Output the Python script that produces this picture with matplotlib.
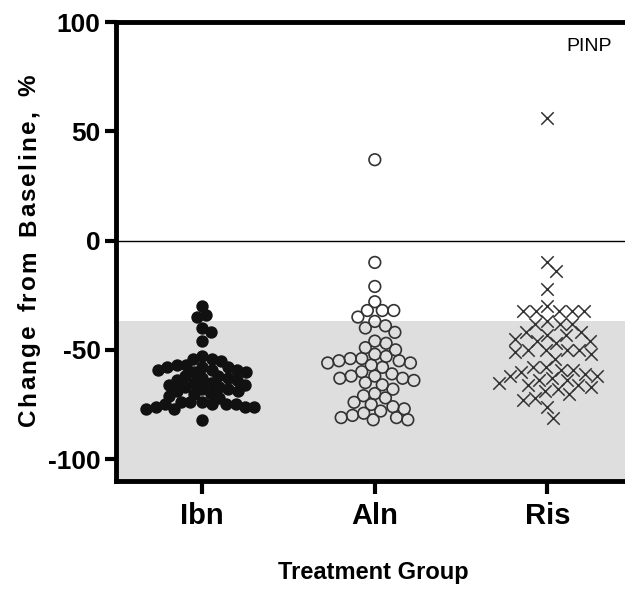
import numpy as np
import matplotlib.pyplot as plt

# --- Data (% change from baseline, PINP) ---
groups = ["Ibn", "Aln", "Ris"]

ibn = [-30, -34, -35, -40, -42, -46, -53, -54, -54, -55,
       -57, -57, -58, -58, -58, -59, -59, -59, -60, -60,
       -62, -62, -63, -63, -64, -64, -65, -65, -66, -66,
       -67, -67, -68, -68, -69, -69, -70, -70, -71, -72,
       -74, -74, -74, -75, -75, -75, -75, -76, -76, -76,
       -77, -77, -82]

aln = [37, -10, -21, -28, -32, -32, -32, -35, -37, -39,
       -40, -42, -46, -47, -49, -50, -52, -53, -54, -54,
       -55, -55, -56, -56, -57, -58, -60, -61, -62, -62,
       -63, -63, -64, -65, -66, -68, -70, -71, -72, -74,
       -75, -76, -77, -78, -79, -80, -81, -81, -82, -82]

ris = [56, -10, -14, -22, -30, -32, -32, -32, -32, -32,
       -37, -38, -38, -38, -42, -42, -43, -43, -45, -46,
       -46, -47, -50, -50, -50, -50, -51, -52, -54, -58,
       -58, -59, -59, -60, -61, -62, -62, -63, -64, -64,
       -65, -66, -66, -67, -68, -69, -70, -72, -73, -76,
       -81]

band_lo, band_hi = -110, -37

arial = ['Liberation Sans', 'DejaVu Sans']

fig = plt.figure(figsize=(6.25, 5.89), dpi=100)
ax = fig.add_axes([0.1856, 0.1834, 0.8144, 0.7792])
ax.set_xlim(0.5, 3.45)
ax.set_ylim(-110, 100)

ax.axhspan(band_lo, band_hi, color='#dedede', zorder=0, lw=0)
ax.axhline(0, color='black', linewidth=1, zorder=1)


def swarm(values, center, d):
    # simple beeswarm in pixel space
    pts = ax.transData.transform(np.column_stack([np.full(len(values), center), values]))
    cx = pts[0, 0]
    placed = []
    xs = []
    for (_, py) in pts:
        cands = [0.0]
        for (qx, qy) in placed:
            dy = abs(py - qy)
            if dy < d:
                dx = np.sqrt(d * d - dy * dy)
                cands += [qx + dx, qx - dx]
        cands.sort(key=abs)
        for c in cands:
            if all((c - qx) ** 2 + (py - qy) ** 2 >= d * d - 1e-6 for (qx, qy) in placed):
                break
        placed.append((c, py))
        xs.append(cx + c)
    out = ax.transData.inverted().transform(np.column_stack([xs, pts[:, 1]]))
    return out[:, 0], out[:, 1]


x, y = swarm(ibn, 1, 9.5)
ax.scatter(x, y, s=80, color='#111111', marker='o', zorder=3, linewidths=0)
x, y = swarm(aln, 2, 11.5)
ax.scatter(x, y, s=70, facecolors='none', edgecolors='#333333', marker='o',
           linewidths=1.2, zorder=3)
x, y = swarm(ris, 3, 12.5)
ax.scatter(x, y, s=80, color='#333333', marker='x', linewidths=1.1, zorder=3)

ax.spines['right'].set_visible(False)
for s in ['left', 'bottom', 'top']:
    ax.spines[s].set_linewidth(3.5)

ax.set_yticks([100, 50, 0, -50, -100])
ax.set_yticklabels(['100', '50', '0', '-50', '-100'], family=arial,
                   fontweight='bold', fontsize=19)
ax.set_xticks([1, 2, 3])
ax.set_xticklabels(groups, family=arial, fontweight='bold', fontsize=21)
ax.tick_params(axis='y', direction='out', length=8, width=3, pad=3)
ax.tick_params(axis='x', direction='out', length=9, width=3, pad=6)

# letter-spaced y label
ylabel = 'Change from Baseline, %'
renderer = fig.canvas.get_renderer()
widths = []
for ch in ylabel:
    t = fig.text(0, 0, ch.replace(' ', 'n'), family=arial, fontweight='bold', fontsize=17.5)
    w = t.get_window_extent(renderer).width
    t.remove()
    widths.append(w * (0.6 if ch == ' ' else 1.0))
spacing = 2.4
total = sum(widths) + spacing * (len(widths) - 1)
fig_h = fig.get_size_inches()[1] * fig.dpi
ypix = 0.575 * fig_h - total / 2
for ch, w in zip(ylabel, widths):
    if ch != ' ':
        fig.text(0.046, (ypix + w / 2) / fig_h, ch, rotation=90, family=arial,
                 fontweight='bold', fontsize=17.5, ha='center', va='center')
    ypix += w + spacing

fig.text(0.598, 0.028, 'Treatment Group', family=arial, fontweight='bold',
         fontsize=17, ha='center', va='center')
ax.text(0.975, 0.965, 'PINP', transform=ax.transAxes, family=arial,
        fontsize=14, ha='right', va='top')

plt.savefig('out.png', dpi=100)
